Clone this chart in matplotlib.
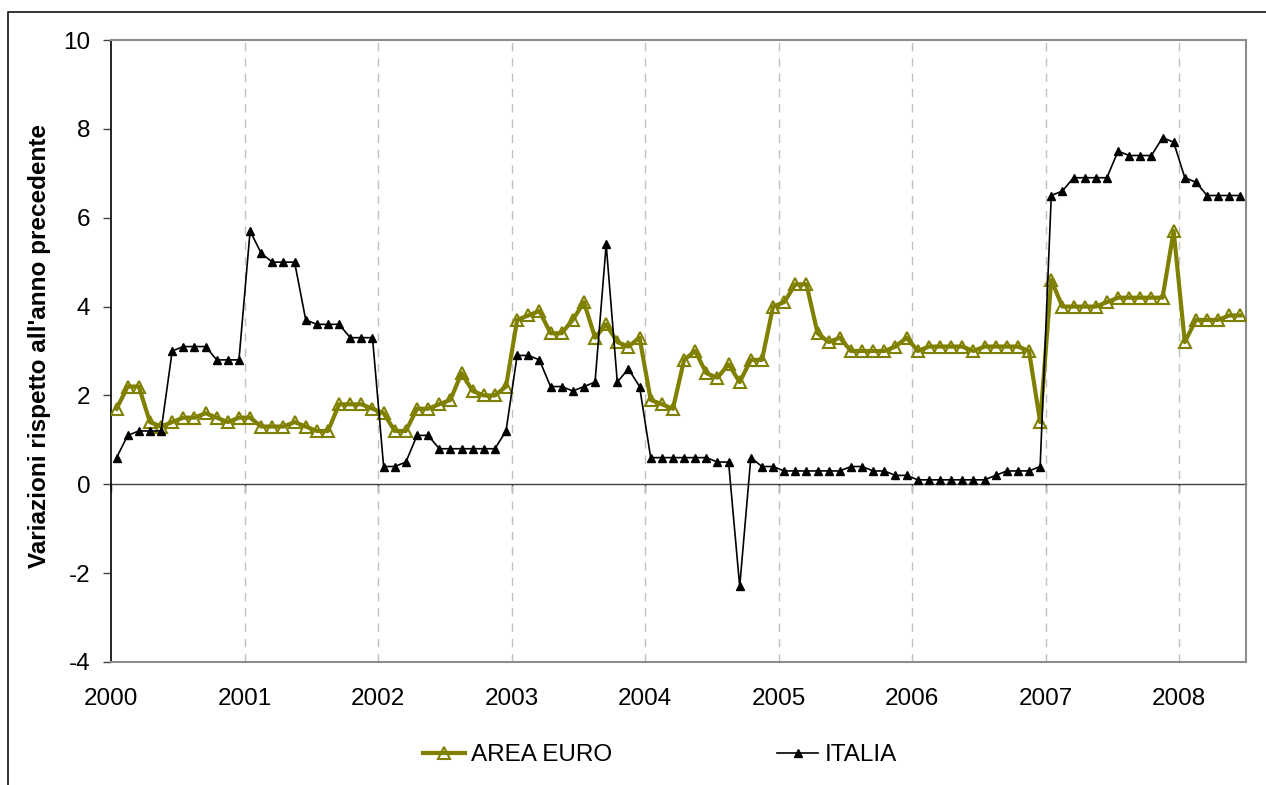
import matplotlib
matplotlib.use("Agg")
import matplotlib.pyplot as plt
from matplotlib.lines import Line2D
import numpy as np

plt.rcParams['font.family'] = ['Liberation Sans', 'DejaVu Sans']

# Monthly year-on-year changes, Jan 2000 - Jun 2008
area_euro = [
    1.7, 2.2, 2.2, 1.4, 1.3, 1.4, 1.5, 1.5, 1.6, 1.5, 1.4, 1.5,   # 2000
    1.5, 1.3, 1.3, 1.3, 1.4, 1.3, 1.2, 1.2, 1.8, 1.8, 1.8, 1.7,   # 2001
    1.6, 1.2, 1.2, 1.7, 1.7, 1.8, 1.9, 2.5, 2.1, 2.0, 2.0, 2.2,   # 2002
    3.7, 3.8, 3.9, 3.4, 3.4, 3.7, 4.1, 3.3, 3.6, 3.2, 3.1, 3.3,   # 2003
    1.9, 1.8, 1.7, 2.8, 3.0, 2.5, 2.4, 2.7, 2.3, 2.8, 2.8, 4.0,   # 2004
    4.1, 4.5, 4.5, 3.4, 3.2, 3.3, 3.0, 3.0, 3.0, 3.0, 3.1, 3.3,   # 2005
    3.0, 3.1, 3.1, 3.1, 3.1, 3.0, 3.1, 3.1, 3.1, 3.1, 3.0, 1.4,   # 2006
    4.6, 4.0, 4.0, 4.0, 4.0, 4.1, 4.2, 4.2, 4.2, 4.2, 4.2, 5.7,   # 2007
    3.2, 3.7, 3.7, 3.7, 3.8, 3.8,                                 # 2008
]
italia = [
    0.6, 1.1, 1.2, 1.2, 1.2, 3.0, 3.1, 3.1, 3.1, 2.8, 2.8, 2.8,   # 2000
    5.7, 5.2, 5.0, 5.0, 5.0, 3.7, 3.6, 3.6, 3.6, 3.3, 3.3, 3.3,   # 2001
    0.4, 0.4, 0.5, 1.1, 1.1, 0.8, 0.8, 0.8, 0.8, 0.8, 0.8, 1.2,   # 2002
    2.9, 2.9, 2.8, 2.2, 2.2, 2.1, 2.2, 2.3, 5.4, 2.3, 2.6, 2.2,   # 2003
    0.6, 0.6, 0.6, 0.6, 0.6, 0.6, 0.5, 0.5, -2.3, 0.6, 0.4, 0.4,  # 2004
    0.3, 0.3, 0.3, 0.3, 0.3, 0.3, 0.4, 0.4, 0.3, 0.3, 0.2, 0.2,   # 2005
    0.1, 0.1, 0.1, 0.1, 0.1, 0.1, 0.1, 0.2, 0.3, 0.3, 0.3, 0.4,   # 2006
    6.5, 6.6, 6.9, 6.9, 6.9, 6.9, 7.5, 7.4, 7.4, 7.4, 7.8, 7.7,   # 2007
    6.9, 6.8, 6.5, 6.5, 6.5, 6.5,                                 # 2008
]
series_labels = ["AREA EURO", "ITALIA"]
year_ticks = list(range(2000, 2009))
y_ticks = [-4, -2, 0, 2, 4, 6, 8, 10]
y_label = "Variazioni rispetto all'anno precedente"

n = len(italia)
# each month is centred in its slot of the category axis
months = 2000 + (np.arange(n) + 0.5) / 12.0

W, H = 1266, 785
fig = plt.figure(figsize=(W / 100, H / 100), dpi=100)
ax = fig.add_axes([111 / W, 1 - 662 / H, (1246 - 111) / W, (662 - 40) / H])

FS = 17.5
olive = "#808000"

ax.plot(months, area_euro, color=olive, lw=3.0, marker="^", ms=8.5,
        mfc="none", mec=olive, mew=1.5, label=series_labels[0], zorder=3)
ax.plot(months, italia, color="black", lw=1.2, marker="^", ms=5.5,
        mfc="black", mec="black", label=series_labels[1], zorder=4)

ax.set_xlim(2000, 2000 + n / 12.0)
ax.set_ylim(-4, 10)

# vertical dashed gridlines at year boundaries
for yr in year_ticks[1:]:
    ax.axvline(yr, color="#c0c0c0", lw=1.0, ls=(0, (6, 5)), zorder=1)

ax.set_xticks(year_ticks)
ax.set_xticklabels([str(y) for y in year_ticks], fontsize=FS)
ax.tick_params(axis="x", length=0, pad=19)
ax.set_yticks(y_ticks)
ax.set_yticklabels([str(v) for v in y_ticks], fontsize=FS)
ax.tick_params(axis="y", length=6, width=1.0, color="#404040", pad=9)

for side in ("top", "right", "bottom"):
    ax.spines[side].set_color("#8c8c8c")
    ax.spines[side].set_linewidth(1.5)
ax.spines["left"].set_color("black")
ax.spines["left"].set_linewidth(1.2)

# category axis drawn through zero, with year tick marks
zero_ax = ax.secondary_xaxis(4 / 14)
zero_ax.set_xticks(year_ticks)
zero_ax.set_xticklabels([])
zero_ax.tick_params(axis="x", direction="out", length=6, width=1.0, color="#404040")
zero_ax.spines["bottom"].set_color("#404040")
zero_ax.spines["bottom"].set_linewidth(1.0)

ax.set_ylabel(y_label, fontsize=FS, fontweight="bold")
ax.yaxis.set_label_coords((51 - 111) / (1246 - 111), 0.508)

fig.legend(loc="center", bbox_to_anchor=(660 / W, 1 - 755 / H), ncol=2,
           frameon=False, fontsize=FS, handlelength=1.7, handletextpad=0.25,
           columnspacing=6.8, borderaxespad=0)

# outer chart frame
fig.add_artist(Line2D([8 / W, 8 / W, 1.0], [0.0, 1 - 12 / H, 1 - 12 / H],
                      transform=fig.transFigure, color="#222222", lw=1.3))

fig.savefig("out.png", dpi=100)
